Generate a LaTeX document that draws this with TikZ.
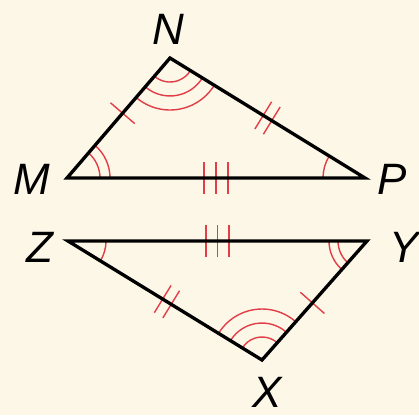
\documentclass[tikz,border=0pt]{standalone}
\usepackage{fontspec}
\setmainfont{Liberation Sans}
\usetikzlibrary{calc,angles}
\definecolor{paper}{RGB}{253,247,232}
\definecolor{markred}{RGB}{226,62,72}
\tikzset{
  side/.style={line width=1.9pt},
  markline/.style={draw=markred,line width=0.8pt},
  vlabel/.style={font=\fontsize{25}{25}\selectfont\itshape,inner sep=0pt}
}
% tick marks across a side: ends, position, offsets along the side
\newcommand{\hashmarks}[4]{%
  \foreach \d in {#4} {
    \coordinate (tm) at ($(#1)!#3!(#2)$);
    \coordinate (tk) at ($(tm)!\d!(#2)$);
    \draw[markline] ($(tk)!0.32cm!90:(#2)$) -- ($(tk)!0.32cm!-90:(#2)$);
  }}
\begin{document}
\begin{tikzpicture}
            \fill[paper] (0,0) rectangle (8.38,8.30);
            \useasboundingbox (0,0) rectangle (8.38,8.30);
            % vertices
            \coordinate (M) at (1.34,4.74);
            \coordinate (N) at (3.40,7.14);
            \coordinate (P) at (7.30,4.74);
            \coordinate (Z) at (1.36,3.48);
            \coordinate (Y) at (7.34,3.48);
            \coordinate (X) at (5.24,1.10);
            % angle marks
            \foreach \r in {0.48,0.76,1.04} \pic[markline,angle radius=\r cm] {angle=M--N--P};
            \foreach \r in {0.66,0.86} \pic[markline,angle radius=\r cm] {angle=P--M--N};
            \pic[markline,angle radius=0.84cm] {angle=N--P--M};
            \pic[markline,angle radius=0.76cm] {angle=X--Z--Y};
            \foreach \r in {0.58,0.76} \pic[markline,angle radius=\r cm] {angle=Z--Y--X};
            \foreach \r in {0.46,0.74,1.02} \pic[markline,angle radius=\r cm] {angle=Y--X--Z};
            % side marks
            \hashmarks{M}{N}{0.54}{0cm}
            \hashmarks{N}{P}{0.5}{-0.1cm,0.1cm}
            \hashmarks{M}{P}{0.5}{-0.24cm,0cm,0.24cm}
            \hashmarks{Z}{Y}{0.5}{-0.23cm,0cm,0.23cm}
            \hashmarks{Z}{X}{0.51}{-0.1cm,0.1cm}
            \hashmarks{X}{Y}{0.48}{0cm}
            % sides
            \draw[side] (M) -- (N) -- (P) -- cycle;
            \draw[side] (Z) -- (Y) -- (X) -- cycle;
            % labels
            \node[vlabel] (labN) at (3.36,7.72) {N};
            \node[vlabel] (labM) at (0.64,4.72) {M};
            \node[vlabel] (labP) at (7.84,4.72) {P};
            \node[vlabel] (labZ) at (0.80,3.36) {Z};
            \node[vlabel] (labY) at (8.08,3.36) {Y};
            \node[vlabel] (labX) at (5.34,0.46) {X};
        \end{tikzpicture}
\end{document}
